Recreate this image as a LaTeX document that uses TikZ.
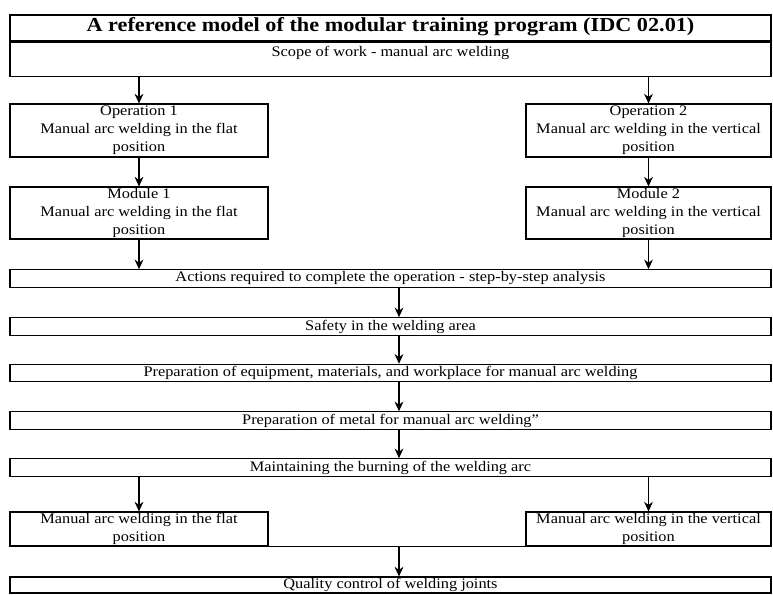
\documentclass[tikz,border=0pt]{standalone}
\usepackage{fontspec}
\setmainfont{Liberation Serif}[FakeStretch=1.12]
\usetikzlibrary{arrows.meta}
\usetikzlibrary{positioning}

\tikzset{
  box/.style={draw, line width=0.6pt, align=center, inner sep=0pt, font=\fontsize{8.3}{10.3}\selectfont},
  widebox/.style={box, minimum width=15.22cm, minimum height=0.35cm},
  leftbox/.style={box, minimum width=5.16cm},
  rightbox/.style={box, minimum width=4.9cm},
  flow/.style={-{Stealth[length=5.5pt,width=5pt]}, line width=0.6pt}
}

\begin{document}
\begin{tikzpicture}
              \useasboundingbox (0,0) rectangle (15.46,-11.88);
              \coordinate (mid) at (7.98,0);

              % heading
              \node[box, minimum width=15.22cm, text height=0.33cm, text depth=0.19cm,
                    font=\fontsize{11.3}{13}\selectfont\bfseries] (head) at (7.81,-0.56)
                    {A reference model of the modular training program (IDC 02.01)};
              \node[box, minimum width=15.22cm, text height=0.29cm, text depth=0.39cm, anchor=north] (scope)
                    at (head.south) {Scope of work - manual arc welding};

              % operations and modules
              \node[leftbox, minimum height=1.06cm] (op1) at (2.78,-2.61)
                    {Operation 1\\Manual arc welding in the flat\\position};
              \node[rightbox, minimum height=1.06cm] (op2) at (12.97,-2.61)
                    {Operation 2\\Manual arc welding in the vertical\\position};
              \node[leftbox, minimum height=1.04cm] (mod1) at (2.78,-4.26)
                    {Module 1\\Manual arc welding in the flat\\position};
              \node[rightbox, minimum height=1.04cm] (mod2) at (12.97,-4.26)
                    {Module 2\\Manual arc welding in the vertical\\position};

              % step-by-step chain
              \node[widebox] (act) at (7.81,-5.57) {Actions required to complete the operation - step-by-step analysis};
              \node[widebox] (safe) at (7.81,-6.53) {Safety in the welding area};
              \node[widebox] (equip) at (7.81,-7.46) {Preparation of equipment, materials, and workplace for manual arc welding};
              \node[widebox] (metal) at (7.81,-8.41) {Preparation of metal for manual arc welding"};
              \node[widebox] (arc) at (7.81,-9.35) {Maintaining the burning of the welding arc};

              \node[leftbox, minimum height=0.68cm] (flat) at (2.78,-10.58)
                    {Manual arc welding in the flat\\position};
              \node[rightbox, minimum height=0.68cm] (vert) at (12.97,-10.58)
                    {Manual arc welding in the vertical\\position};
              \node[widebox, minimum height=0.32cm] (qual) at (7.81,-11.70) {Quality control of welding joints};

              \draw[flow] (scope.south -| op1) -- (op1);
              \draw[flow] (scope.south -| op2) -- (op2);
              \draw[flow] (op1) -- (mod1);
              \draw[flow] (op2) -- (mod2);
              \draw[flow] (mod1) -- (act.north -| mod1);
              \draw[flow] (mod2) -- (act.north -| mod2);

              \draw[flow] (act.south -| mid) -- (safe.north -| mid);
              \draw[flow] (safe.south -| mid) -- (equip.north -| mid);
              \draw[flow] (equip.south -| mid) -- (metal.north -| mid);
              \draw[flow] (metal.south -| mid) -- (arc.north -| mid);

              \draw[flow] (arc.south -| flat) -- (flat);
              \draw[flow] (arc.south -| vert) -- (vert);
              \draw[line width=0.6pt] (flat.south east) -- (vert.south west);
              \draw[flow] (flat.south -| mid) -- (qual.north -| mid);
            \end{tikzpicture}
\end{document}
